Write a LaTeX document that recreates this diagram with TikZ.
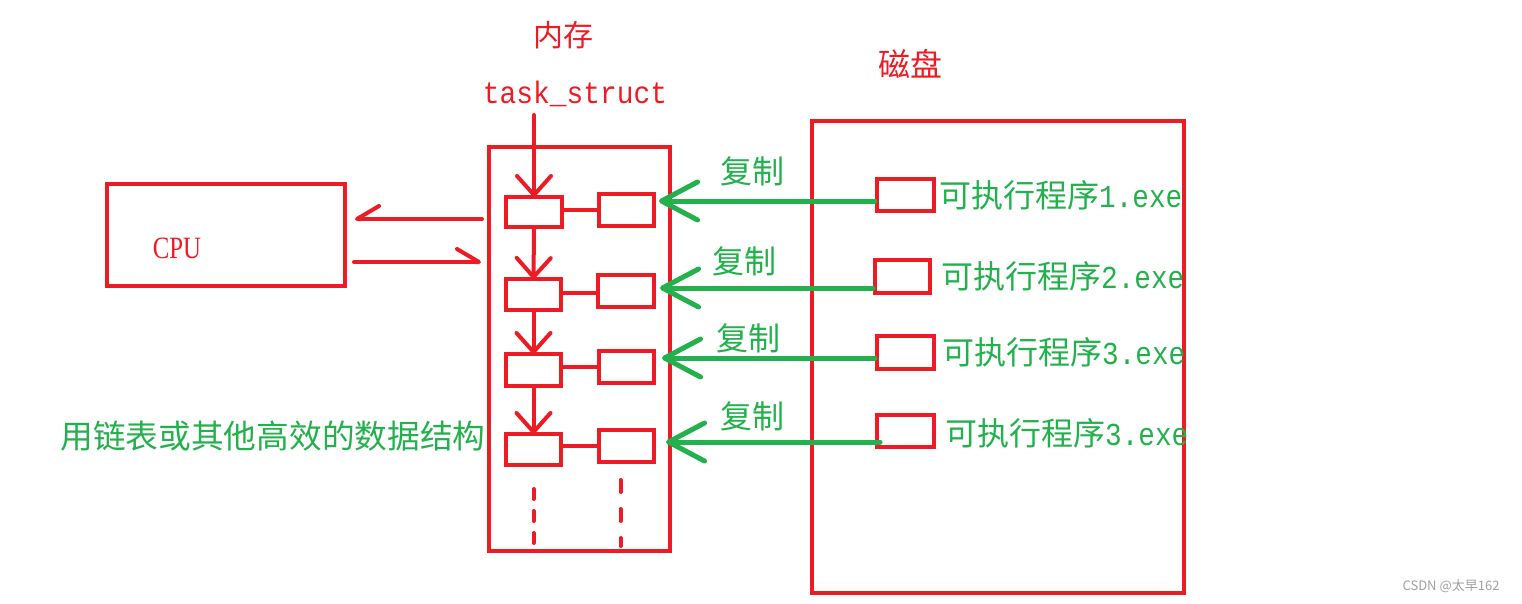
\documentclass[tikz,border=0pt]{standalone}
\usepackage{fontspec}
\usetikzlibrary{arrows.meta}
\newfontfamily\cjk{Noto Sans CJK SC}
\newfontfamily\monof{Liberation Mono}
\newfontfamily\seriff{Liberation Serif}
\definecolor{pred}{HTML}{ED1C24}
\definecolor{pgreen}{HTML}{22B14C}
\definecolor{wmgray}{HTML}{A0A0A0}
\newcommand{\exetext}[1]{{\monof\fontsize{32}{36}\selectfont\scalebox{0.865}[1]{#1}}}
\tikzset{
  box/.style={draw=pred,line width=4pt,inner sep=0pt},
  rline/.style={draw=pred,line width=4pt},
  rarrow/.style={draw=pred,line width=4pt,line cap=round,-{Straight Barb[length=19pt,width=34pt,round]}},
  rharpup/.style={draw=pred,line width=4pt,line cap=round,-{Straight Barb[length=22pt,width=26pt,round,harpoon,swap]}},
  rharpdown/.style={draw=pred,line width=4pt,line cap=round,-{Straight Barb[length=22pt,width=26pt,round,harpoon]}},
  garrow/.style={draw=pgreen,line width=5pt,line cap=round,-{Straight Barb[length=36pt,width=38pt,round]}},
  rdash/.style={draw=pred,line width=4pt,line cap=round},
  cjklabel/.style={inner sep=0pt,font=\cjk\fontsize{32}{36}\selectfont},
}
\begin{document}
\begin{tikzpicture}[x=1pt,y=-1pt]
\useasboundingbox (0,0) rectangle (1522,604);
% big boxes
\node[box,minimum width=181pt,minimum height=404pt] (mem) at (579.5,349) {};
\node[box,minimum width=372pt,minimum height=472pt] (disk) at (998,357) {};
\node[box,minimum width=238pt,minimum height=102pt] (cpubox) at (226,235) {};
% memory entries
\node[box,minimum width=56pt,minimum height=30pt] (L1) at (534,212) {};
\node[box,minimum width=55pt,minimum height=32pt] (R1) at (626.5,210) {};
\node[box,minimum width=55pt,minimum height=31pt] (L2) at (533.5,294.5) {};
\node[box,minimum width=56pt,minimum height=32pt] (R2) at (626,291) {};
\node[box,minimum width=55pt,minimum height=32pt] (L3) at (533.5,370) {};
\node[box,minimum width=55pt,minimum height=32pt] (R3) at (626.5,367) {};
\node[box,minimum width=55pt,minimum height=31pt] (L4) at (533.5,449.5) {};
\node[box,minimum width=55pt,minimum height=32pt] (R4) at (626.5,446) {};
% disk entries
\node[box,minimum width=57pt,minimum height=32pt] (D1) at (905.5,195) {};
\node[box,minimum width=55pt,minimum height=33pt] (D2) at (902.5,276.5) {};
\node[box,minimum width=57pt,minimum height=33pt] (D3) at (905.5,352.5) {};
\node[box,minimum width=57pt,minimum height=32pt] (D4) at (905.5,431) {};
% texts
\node[inner sep=0pt,text=pred,font=\cjk\fontsize{30}{34}\selectfont] (neicun) at (563,35) {内存};
\node[inner sep=0pt,text=pred,font=\monof\fontsize{31}{34}\selectfont] (task) at (575,94) {\scalebox{0.9}[1]{task\_struct}};
\node[inner sep=0pt,text=pred,font=\cjk\fontsize{32}{36}\selectfont] (cipan) at (910,64) {磁盘};
\node[inner sep=0pt,text=pred,font=\seriff\fontsize{31}{34}\selectfont] (cpu) at (177,248) {\scalebox{0.8}[1]{CPU}};
\node[inner sep=0pt,text=pgreen,font=\cjk\fontsize{32.7}{36}\selectfont] (ds) at (273,436) {用链表或其他高效的数据结构};
\node[cjklabel,text=pgreen] (c1) at (752,171) {复制};
\node[cjklabel,text=pgreen] (c2) at (744,261) {复制};
\node[cjklabel,text=pgreen] (c3) at (748,338) {复制};
\node[cjklabel,text=pgreen] (c4) at (752,416) {复制};
\node[cjklabel,text=pgreen,anchor=west] (e1) at (939,195) {可执行程序\exetext{1.exe}};
\node[cjklabel,text=pgreen,anchor=west] (e2) at (941,276) {可执行程序\exetext{2.exe}};
\node[cjklabel,text=pgreen,anchor=west] (e3) at (942,352) {可执行程序\exetext{3.exe}};
\node[cjklabel,text=pgreen,anchor=west] (e4) at (945,433) {可执行程序\exetext{3.exe}};
\node[inner sep=0pt,text=wmgray,font=\cjk\fontsize{13}{15}\selectfont] (wm) at (1451,586) {CSDN @太早162};
% red arrows down the list
\draw[rarrow] (L1.north |- 0,115) -- ([yshift=-2pt]L1.north);
\draw[rarrow] (L1.south) -- ([yshift=-2pt]L2.north);
\draw[rarrow] (L2.south) -- ([yshift=-2pt]L3.north);
\draw[rarrow] (L3.south) -- ([yshift=-2pt]L4.north);
% links between entries
\draw[rline] (L1.east |- R1.west) -- (R1.west);
\draw[rline] (L2.east |- 0,293) -- (R2.west |- 0,293);
\draw[rline] (L3.east |- R3.west) -- (R3.west);
\draw[rline] (L4.east |- R4.west) -- (R4.west);
% CPU exchange
\draw[rharpup] ([xshift=-5pt]mem.west |- 0,219) -- ([xshift=8pt]cpubox.east |- 0,219);
\draw[rharpdown] ([xshift=7pt]cpubox.east |- 0,262) -- ([xshift=-6pt]mem.west |- 0,262);
% copy arrows
\draw[garrow] (D1.west |- 0,201) -- ([xshift=3pt]R1.east |- 0,201);
\draw[garrow] (D2.west |- 0,288) -- ([xshift=4pt]R2.east |- 0,288);
\draw[garrow] (D3.west |- 0,358) -- ([xshift=6pt]R3.east |- 0,358);
\draw[garrow] ([xshift=5pt]D4.west |- 0,442) -- ([xshift=10pt]R4.east |- 0,442);
% continuation dashes
\draw[rdash,dash pattern=on 10pt off 12pt] (L4.south |- 0,489) -- (L4.south |- 0,543);
\draw[rdash,dash pattern=on 12pt off 17pt] ([xshift=-6pt]R4.south |- 0,480) -- ([xshift=-6pt]R4.south |- 0,546);
\end{tikzpicture}
\end{document}
